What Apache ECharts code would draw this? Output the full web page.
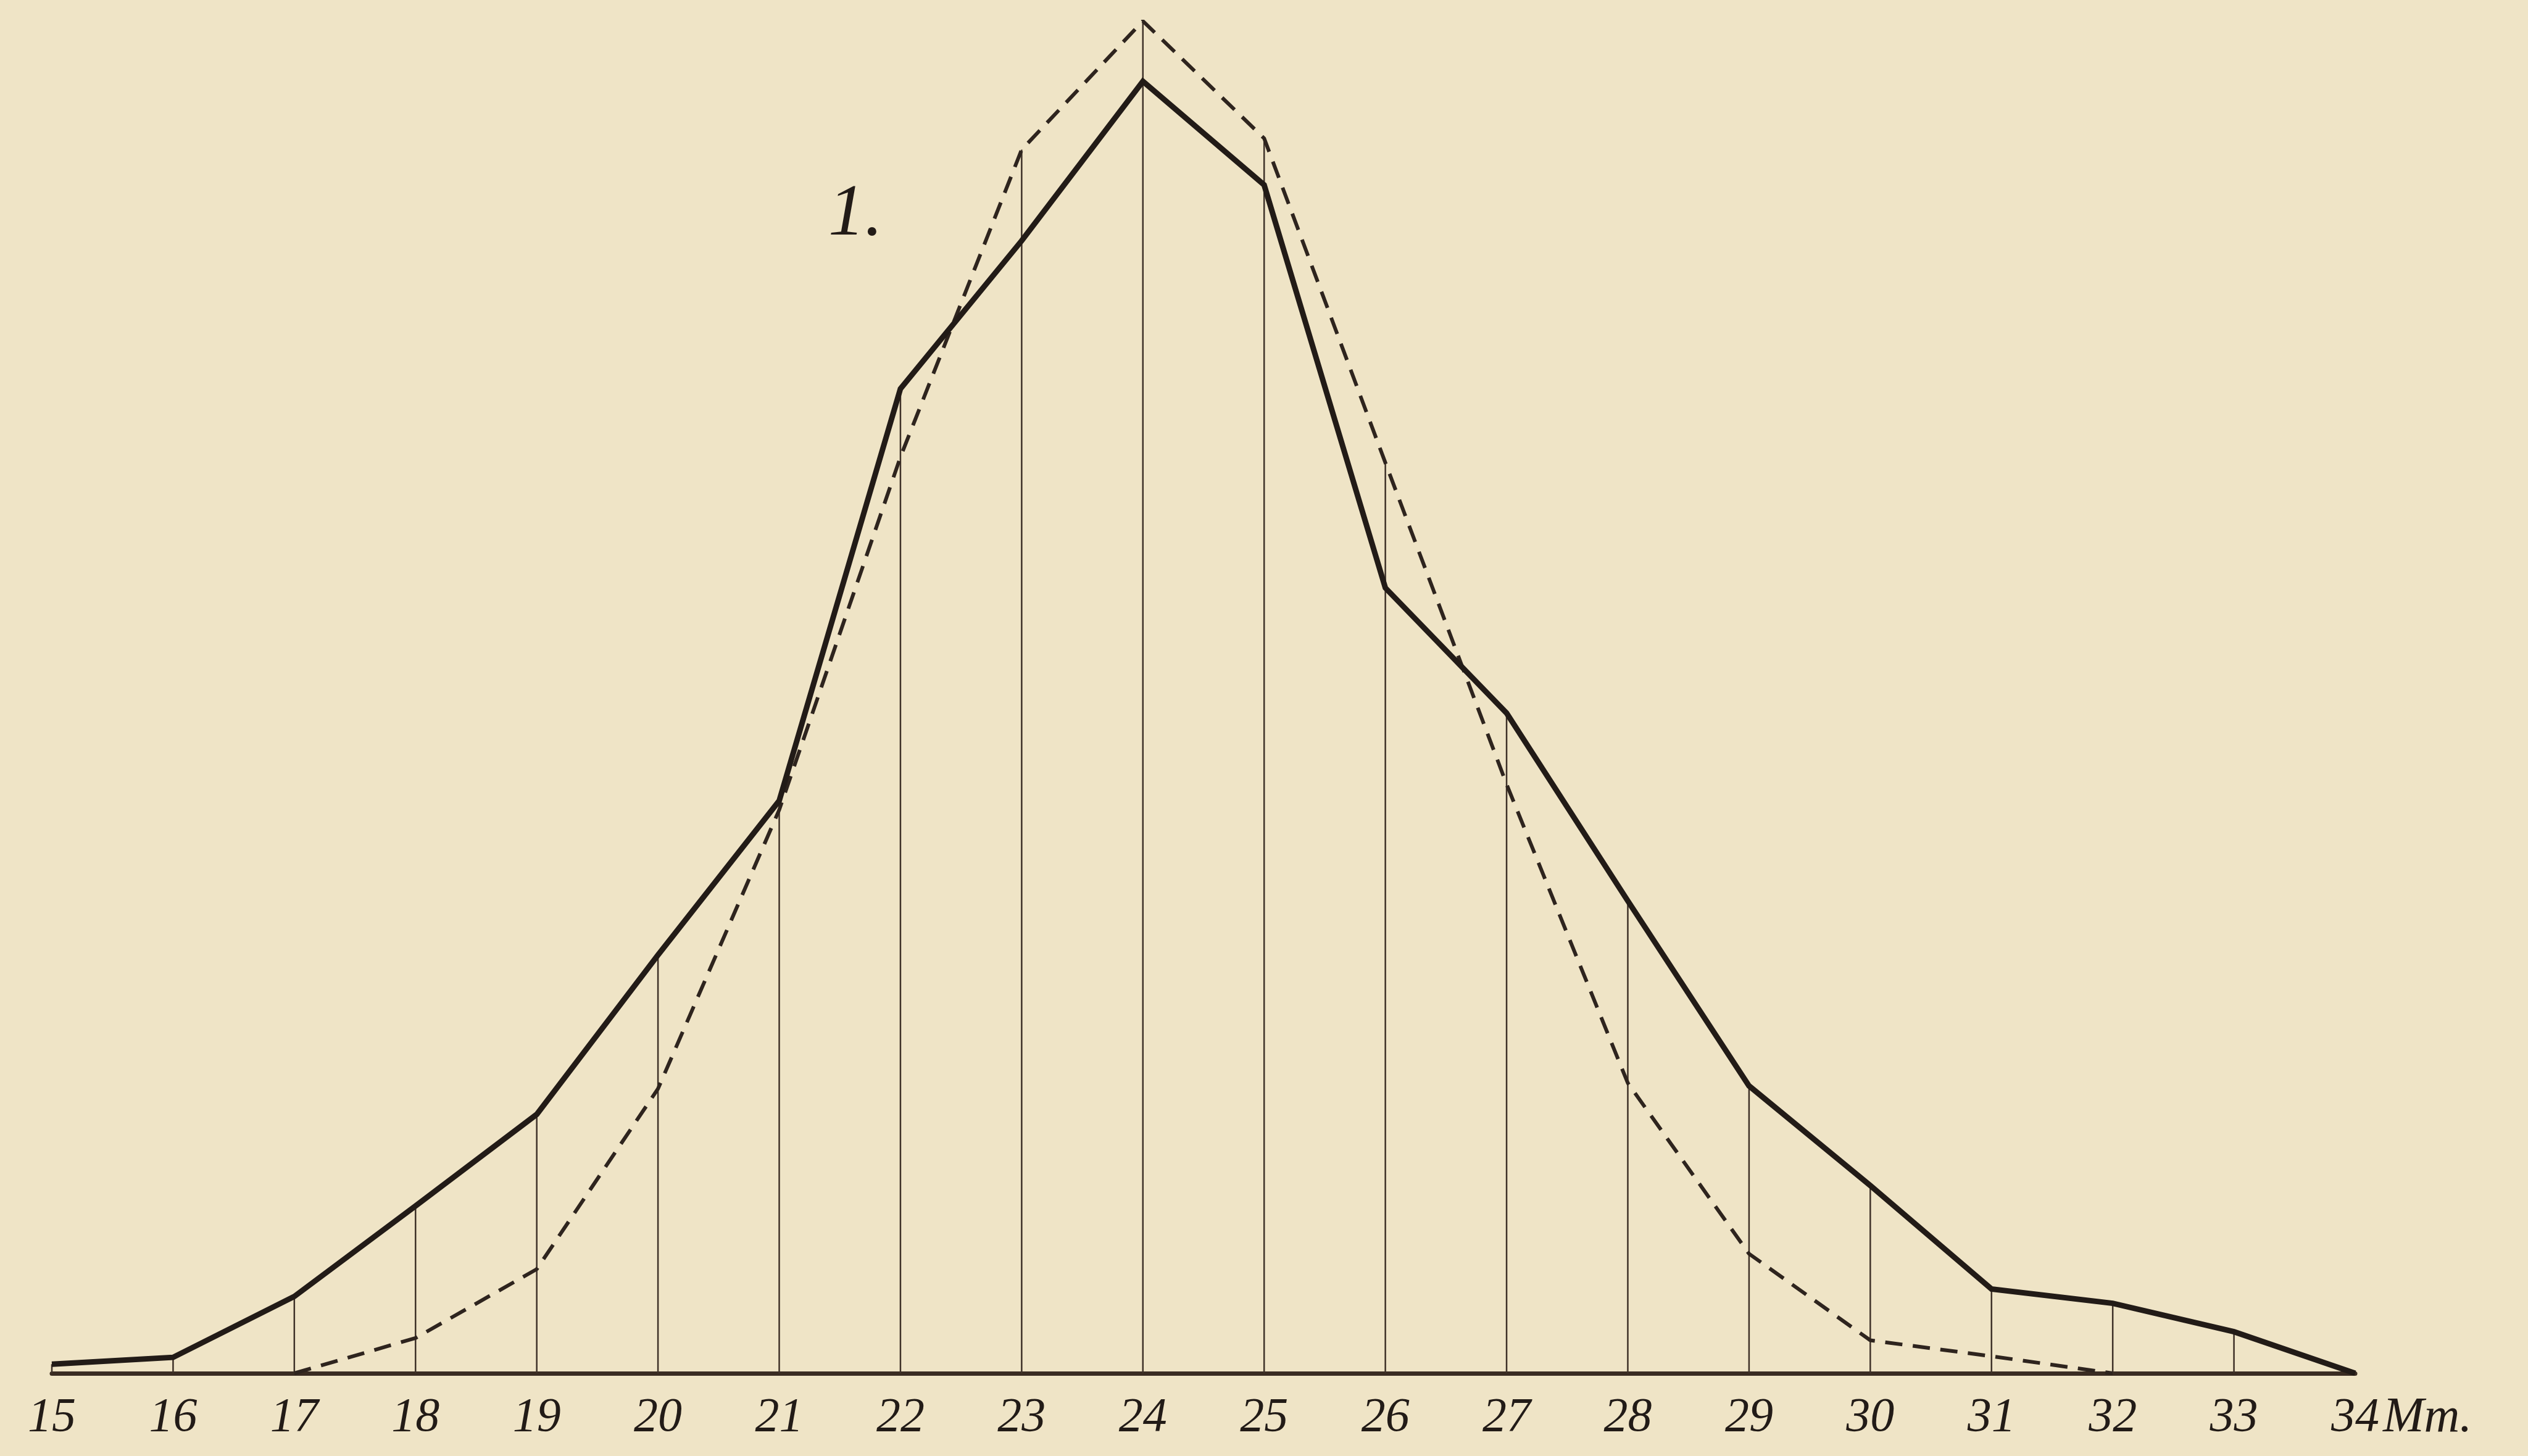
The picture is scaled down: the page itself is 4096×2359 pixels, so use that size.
<!DOCTYPE html>
<html>
<head>
<meta charset="utf-8">
<script src="https://cdn.jsdelivr.net/npm/echarts@6/dist/echarts.min.js"></script>
<style>
html,body{margin:0;padding:0;background:#efe4c6;}
#c{width:4096px;height:2359px;}
</style>
</head>
<body>
<div id="c"></div>
<script>
// Body size classes (Mm.)
const sizes = [15,16,17,18,19,20,21,22,23,24,25,26,27,28,29,30,31,32,33,34];
// Observed frequency curve (solid)
const solidValues = [1.6,2.8,13.5,29.4,45.5,73.5,100.6,173,199,227,208.8,138,116,83,50.5,33,14.8,12.3,7.3,0];
// Theoretical curve (dashed), defined from 17 to 32
const dashedSizes = [17,18,19,20,21,22,23,24,25,26,27,28,29,30,31,32];
const dashedValues = [0,6.2,18.3,50,99,161,215,237.6,217,160,103.5,51,21,5.8,3.0,0];
// Tick labels
const tickLabels = ['15','16','17','18','19','20','21','22','23','24','25','26','27','28','29','30','31','32','33','34'];
const unitLabel = 'Mm.';
const curveLabel = '1.';

const ink = '#221b17';
const thinInk = '#3e3128';
const font = '"Liberation Serif", serif';

const solidData = sizes.map((s, i) => [s, solidValues[i]]);
const dashedData = dashedSizes.map((s, i) => [s, dashedValues[i]]);
const dashedMap = {};
dashedSizes.forEach((s, i) => { dashedMap[s] = dashedValues[i]; });
const ordinateData = sizes.map((s, i) => [s, Math.max(solidValues[i], dashedMap[s] || 0)]);

const chart = echarts.init(document.getElementById('c'), null, {renderer: 'canvas'});
chart.setOption({
  backgroundColor: '#efe4c6',
  animation: false,
  grid: {left: 84, right: 280, top: 0, bottom: 134, containLabel: false},
  xAxis: {
    type: 'value',
    min: 15, max: 34, interval: 1,
    axisLine: {show: true, lineStyle: {color: '#3a2c22', width: 7}},
    axisTick: {show: false},
    splitLine: {show: false},
    axisLabel: {
      margin: 33,
      fontSize: 78,
      fontStyle: 'italic',
      fontFamily: font,
      color: ink,
      formatter: v => tickLabels[Math.round(v) - 15] || ''
    },
    name: unitLabel,
    nameLocation: 'end',
    nameGap: 30,
    nameTextStyle: {
      fontSize: 80, fontStyle: 'italic', fontFamily: font, color: ink,
      verticalAlign: 'top', padding: [33, 0, 0, 0]
    }
  },
  yAxis: {
    type: 'value', min: 0, max: 241.3,
    show: false, splitLine: {show: false}
  },
  graphic: [{
    type: 'text',
    left: 1342, top: 290,
    style: {text: curveLabel, fontSize: 118, fontStyle: 'italic', fontFamily: font, fill: ink}
  }],
  series: [
    {
      type: 'custom',
      data: ordinateData,
      renderItem: function (params, api) {
        const p0 = api.coord([api.value(0), 0]);
        const p1 = api.coord([api.value(0), api.value(1)]);
        return {
          type: 'line',
          shape: {x1: p0[0], y1: p0[1], x2: p1[0], y2: p1[1]},
          style: {stroke: thinInk, lineWidth: 2.5}
        };
      },
      z: 1
    },
    {
      type: 'line',
      data: dashedData,
      symbol: 'none',
      lineStyle: {color: '#2e241e', width: 6, type: [28, 17]},
      z: 2
    },
    {
      type: 'line',
      data: solidData,
      symbol: 'none',
      lineStyle: {color: ink, width: 9, join: 'miter'},
      z: 3
    }
  ]
});
</script>
</body>
</html>
